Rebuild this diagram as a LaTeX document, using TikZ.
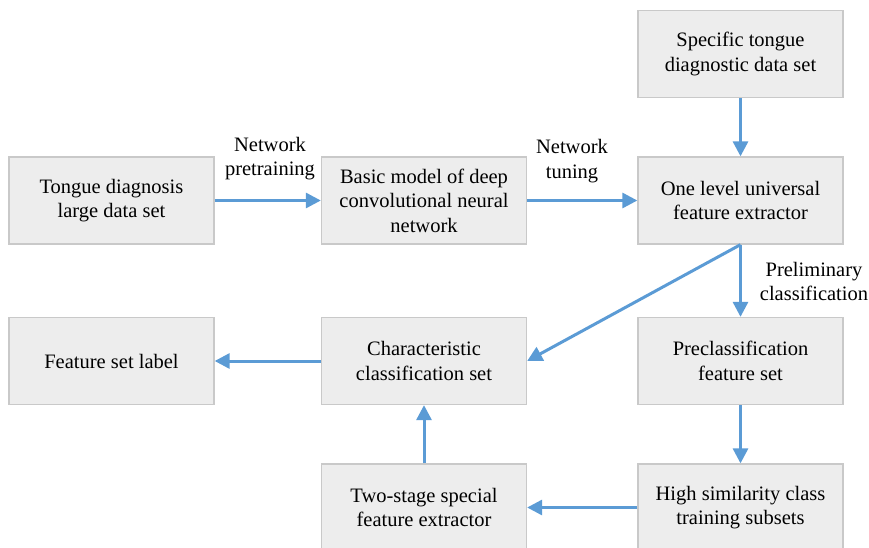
\documentclass[tikz,border=0pt]{standalone}
\usepackage{fontspec}
\setmainfont{Liberation Serif}
\usetikzlibrary{arrows.meta}
\definecolor{boxfill}{HTML}{EDEDED}
\definecolor{boxline}{HTML}{C9C9C9}
\definecolor{arrowblue}{HTML}{5B9BD5}
\begin{document}
\begin{tikzpicture}[x=1pt,y=-1pt,
  box/.style={draw=boxline,line width=1.3pt,fill=boxfill,minimum width=205pt,minimum height=87pt,
    inner sep=2pt,align=center,font=\fontsize{20.5}{24.5}\selectfont,text=black},
  lbl/.style={align=center,font=\fontsize{20.5}{24.5}\selectfont,text=black},
  conn/.style={draw=arrowblue,line width=3pt,-{Triangle[length=15pt,width=15pt]}}]
\useasboundingbox (0,0) rectangle (869,548);
\clip (0,0) rectangle (869,548);
\node[box] (tdl) at (111.5,200.5) {Tongue diagnosis\\large data set};
\node[box] (bm) at (424,200.5) {Basic model of deep\\convolutional neural\\network};
\node[box] (one) at (740.5,200.5) {One level universal\\feature extractor};
\node[box] (spec) at (740.5,54) {Specific tongue\\diagnostic data set};
\node[box] (fsl) at (111.5,361) {Feature set label};
\node[box] (ccs) at (424,361) {Characteristic\\classification set};
\node[box] (pfs) at (740.5,361) {Preclassification\\feature set};
\node[box] (two) at (424,507.5) {Two-stage special\\feature extractor};
\node[box] (high) at (740.5,507.5) {High similarity class\\training subsets};
\node[lbl] at (270,158.5) {Network\\pretraining};
\node[lbl] at (572,161) {Network\\tuning};
\node[lbl] at (814,281.5) {Preliminary\\classification};
\draw[conn] (tdl) -- (bm);
\draw[conn] (bm) -- (one);
\draw[conn] (spec) -- (one);
\draw[conn] (one.south) -- (pfs);
\draw[conn] (one.south) -- (ccs.east);
\draw[conn] (ccs) -- (fsl);
\draw[conn] (pfs) -- (high);
\draw[conn] (high) -- (two);
\draw[conn] (two) -- (ccs);
\end{tikzpicture}
\end{document}
